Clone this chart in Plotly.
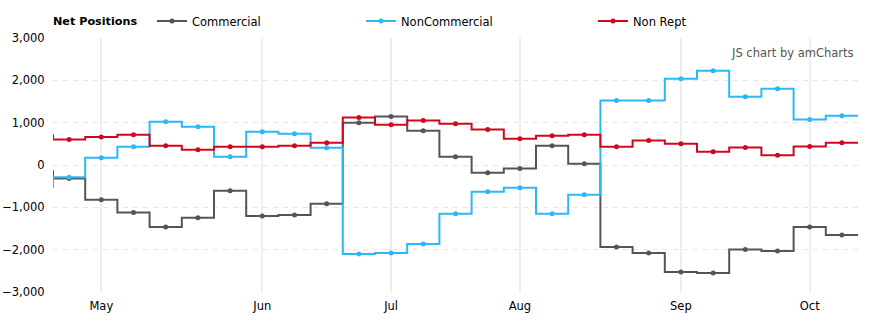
import plotly.graph_objects as go
import datetime as dt

# Weekly report dates (first one is the point just before the visible window)
dates = ["2017-04-18", "2017-04-25", "2017-05-02", "2017-05-09", "2017-05-16", "2017-05-23",
         "2017-05-30", "2017-06-06", "2017-06-13", "2017-06-20", "2017-06-27",
         "2017-07-04", "2017-07-11", "2017-07-18", "2017-07-25", "2017-08-01",
         "2017-08-08", "2017-08-15", "2017-08-22", "2017-08-29", "2017-09-05",
         "2017-09-12", "2017-09-19", "2017-09-26", "2017-10-03", "2017-10-10"]

commercial = [-145, -320, -823, -1123, -1462, -1249, -611, -1202, -1180, -918, 998, 1147, 808,
              193, -186, -82, 453, 27, -1935, -2077, -2527, -2550, -1997, -2030, -1462, -1652]
noncommercial = [-517, -290, 170, 430, 1021, 903, 193, 784, 740, 407, -2100, -2077, -1864,
                 -1154, -634, -539, -1154, -705, 1526, 1526, 2038, 2227, 1612, 1802, 1077, 1163]
nonrept = [700, 604, 659, 714, 453, 360, 430, 430, 455, 525, 1124, 950, 1053,
           973, 840, 619, 690, 714, 430, 580, 500, 312, 415, 233, 438, 525]

series_names = ["Commercial", "NonCommercial", "Non Rept"]
series_colors = ["#555555", "#2bb8f6", "#d0081f"]
y_ticks = [-3000, -2000, -1000, 0, 1000, 2000, 3000]

# equal spacing: index positions (first date sits at -1, outside the view)
idx = list(range(-1, len(dates) - 1))
parsed = [dt.date.fromisoformat(d) for d in dates]
tickvals, ticktext = [], []
for k in range(2, len(parsed)):
    if parsed[k].month != parsed[k - 1].month:
        tickvals.append(idx[k])
        ticktext.append(parsed[k].strftime("%b"))

font = dict(family="DejaVu Sans", size=11.5, color="#000000")
W, H = 874, 326

fig = go.Figure()
legends = ["legend", "legend2", "legend3"]
for name, vals, col, lg in zip(series_names, [commercial, noncommercial, nonrept], series_colors, legends):
    # step lines centred on each point
    xs = [i - 0.5 for i in idx] + [idx[-1] + 0.5]
    ys = vals + [vals[-1]]
    fig.add_trace(go.Scatter(x=xs, y=ys, mode="lines", line=dict(color=col, width=2, shape="hv"),
                             showlegend=False, hoverinfo="skip"))
    fig.add_trace(go.Scatter(x=idx[1:], y=vals[1:], mode="markers", name=name,
                             marker=dict(color=col, size=5, symbol="circle"),
                             showlegend=False))
    # legend entry
    fig.add_trace(go.Scatter(x=[None], y=[None], mode="lines+markers", name=name,
                             line=dict(color=col, width=2), marker=dict(color=col, size=5),
                             legend=lg, showlegend=True))

legend_x = [152, 361, 593]
leg_common = dict(orientation="h", xref="container", yref="container",
                  y=1 - 21 / H, xanchor="left", yanchor="middle",
                  font=font, bgcolor="rgba(0,0,0,0)")

fig.update_layout(
    width=W, height=H,
    margin=dict(l=53, r=16, t=38, b=34, autoexpand=False),
    paper_bgcolor="white", plot_bgcolor="white",
    font=font,
    showlegend=True,
    legend=dict(x=legend_x[0] / W, **leg_common),
    legend2=dict(x=legend_x[1] / W, **leg_common),
    legend3=dict(x=legend_x[2] / W, **leg_common),
    xaxis=dict(range=[-0.5, len(dates) - 1.5], tickvals=tickvals, ticktext=ticktext,
               showgrid=True, gridcolor="#eeeeee", gridwidth=2, zeroline=False,
               showline=False, ticks="outside", ticklen=3, tickcolor="rgba(0,0,0,0)",
               tickfont=font, fixedrange=True, automargin=False),
    yaxis=dict(range=[-3000, 3000], tickvals=y_ticks, tickformat=",d",
               showgrid=True, gridcolor="#e6e6e6", gridwidth=1, griddash="5px,5px",
               zeroline=False, showline=False, ticks="outside", ticklen=5,
               tickcolor="rgba(0,0,0,0)", tickfont=font, fixedrange=True, automargin=False),
    annotations=[
        dict(text="<b>Net Positions</b>", xref="paper", yref="paper",
             x=0, y=1, xanchor="left", yanchor="middle", yshift=17, xshift=-2,
             showarrow=False, font=dict(family="DejaVu Sans", size=11.2, color="#000000")),
        dict(text="JS chart by amCharts", xref="paper", yref="paper",
             x=1, y=1, xanchor="right", yanchor="top", xshift=-2, yshift=-6,
             showarrow=False, font=dict(family="DejaVu Sans", size=11.5, color="#555555")),
    ],
)

fig.write_html("out.html")
